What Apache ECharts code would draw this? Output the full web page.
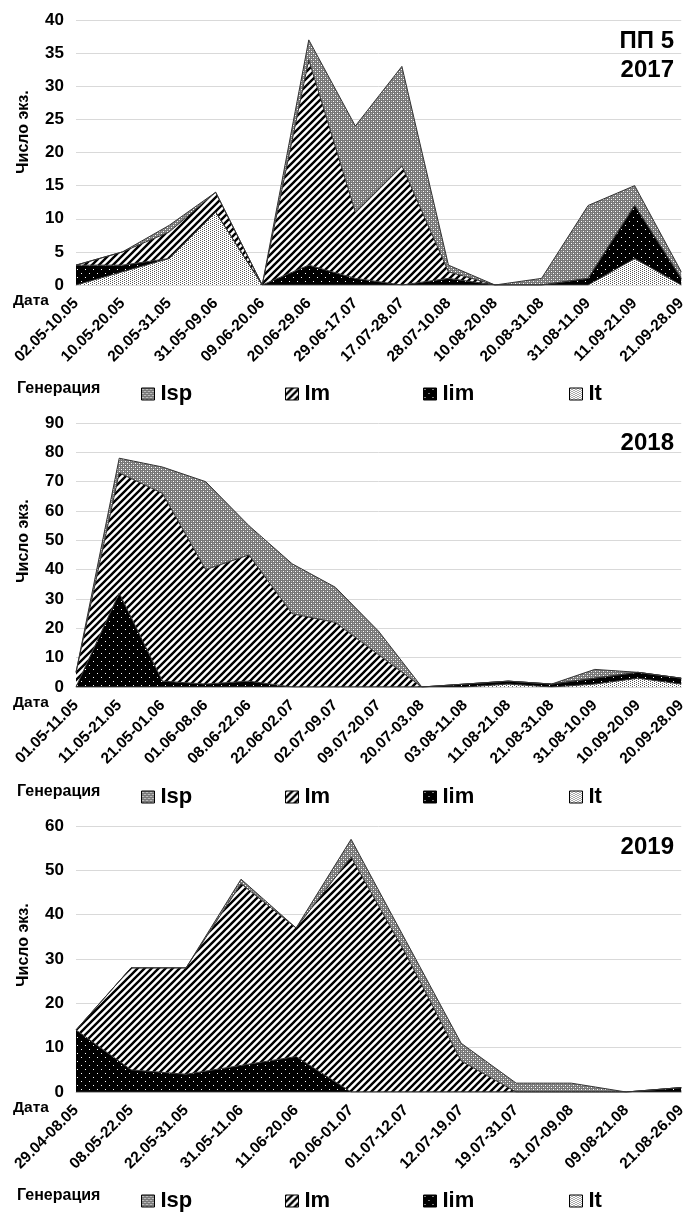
<!DOCTYPE html>
<html>
<head>
<meta charset="utf-8">
<script src="https://cdn.jsdelivr.net/npm/echarts@6/dist/echarts.min.js"></script>
<style>
html,body{margin:0;padding:0;background:#fff;}
#chart{width:689px;height:1213px;}
</style>
</head>
<body>
<div id="chart"></div>
<script>
// ---------- DATA ----------
const cats2017 = ['02.05-10.05','10.05-20.05','20.05-31.05','31.05-09.06','09.06-20.06','20.06-29.06','29.06-17.07','17.07-28.07','28.07-10.08','10.08-20.08','20.08-31.08','31.08-11.09','11.09-21.09','21.09-28.09'];
const isp2017 = [0,0,1,0,0,3,13,15,1,0,1,11,3,1];
const im2017  = [0,2,4,3,0,31,10,18,1,0,0,0,0,0];
const iim2017 = [3,1,0,0,0,3,1,0,1,0,0,1,8,1];
const it2017  = [0,2,4,11,0,0,0,0,0,0,0,0,4,0];

const cats2018 = ['01.05-11.05','11.05-21.05','21.05-01.06','01.06-08.06','08.06-22.06','22.06-02.07','02.07-09.07','09.07-20.07','20.07-03.08','03.08-11.08','11.08-21.08','21.08-31.08','31.08-10.09','10.09-20.09','20.09-28.09'];
const isp2018 = [0,5,9,30,10,17,12,8,0,0,0,0,3,0,0];
const im2018  = [5,41,64,39,43,25,22,11,0,0,0,0,0,0,0];
const iim2018 = [0,32,2,1,2,0,0,0,0,1,1,1,2,2,2];
const it2018  = [0,0,0,0,0,0,0,0,0,0,1,0,1,3,1];

const cats2019 = ['29.04-08.05','08.05-22.05','22.05-31.05','31.05-11.06','11.06-20.06','20.06-01.07','01.07-12.07','12.07-19.07','19.07-31.07','31.07-09.08','09.08-21.08','21.08-26.09'];
const isp2019 = [0,0,0,1,0,4,3,4,2,2,0,0];
const im2019  = [0,23,24,41,29,53,31,7,0,0,0,0];
const iim2019 = [14,5,4,6,8,0,0,0,0,0,0,1];
const it2019  = [0,0,0,0,0,0,0,0,0,0,0,0];

const seriesNames = ['Isp','Im','Iim','It'];
const yMax = [40, 90, 60];
const yInterval = [5, 10, 10];
const panelTitles = [['ПП 5', '2017'], ['2018'], ['2019']];

// ---------- PATTERNS ----------
function makeCanvas(size, draw){
  const c = document.createElement('canvas');
  c.width = size; c.height = size;
  const ctx = c.getContext('2d');
  draw(ctx, size);
  return c;
}
const patIsp = makeCanvas(4, (ctx)=>{
  ctx.fillStyle = '#777777'; ctx.fillRect(0,0,4,4);
  ctx.fillStyle = '#ffffff'; ctx.fillRect(1,1,1,1); ctx.fillRect(3,3,1,1);
  ctx.fillStyle = '#a8a8a8'; ctx.fillRect(1,3,1,1); ctx.fillRect(3,1,1,1);
});
const patIm = makeCanvas(7, (ctx, s)=>{
  ctx.fillStyle = '#ffffff'; ctx.fillRect(0,0,s,s);
  ctx.strokeStyle = '#000'; ctx.lineWidth = 2.4;
  ctx.beginPath();
  ctx.moveTo(-1, s+1); ctx.lineTo(s+1, -1);
  ctx.moveTo(-2, 2); ctx.lineTo(2, -2);
  ctx.moveTo(s-2, s+2); ctx.lineTo(s+2, s-2);
  ctx.stroke();
});
const patIim = makeCanvas(8, (ctx)=>{
  ctx.fillStyle = '#000'; ctx.fillRect(0,0,8,8);
  ctx.fillStyle = '#fff'; ctx.fillRect(1,1,1,1); ctx.fillRect(5,5,1,1);
});
const patIt = makeCanvas(4, (ctx)=>{
  ctx.fillStyle = '#fff'; ctx.fillRect(0,0,4,4);
  ctx.fillStyle = '#555'; ctx.fillRect(0,0,1,1); ctx.fillRect(2,1,1,1); ctx.fillRect(0,2,1,1); ctx.fillRect(2,3,1,1);
});
const patterns = {
  Isp: {image: patIsp, repeat: 'repeat'},
  Im:  {image: patIm,  repeat: 'repeat'},
  Iim: {image: patIim, repeat: 'repeat'},
  It:  {image: patIt,  repeat: 'repeat'}
};

// ---------- BUILD ----------
const panels = [
  {cats: cats2017, vals: {Isp: isp2017, Im: im2017, Iim: iim2017, It: it2017}},
  {cats: cats2018, vals: {Isp: isp2018, Im: im2018, Iim: iim2018, It: it2018}},
  {cats: cats2019, vals: {Isp: isp2019, Im: im2019, Iim: iim2019, It: it2019}}
];
const gridTops = [20, 423, 826];
const gridHeights = [265, 264, 266];
const legendCenters = [391, 794, 1198];
const legendLefts = [136, 280, 418, 564];
const yNameCenters = [132, 541, 945];
const titleCenters = [[41, 70], [443], [847]];

const FONT = 'Liberation Sans, Arial, sans-serif';
const grids = [], xAxes = [], yAxes = [], series = [], legends = [], graphics = [];

panels.forEach((p, i) => {
  grids.push({left: 76, right: 6, top: gridTops[i], height: gridHeights[i]});
  xAxes.push({
    type: 'category', gridIndex: i, data: p.cats, boundaryGap: false,
    axisLine: {show: true, lineStyle: {color: '#d9d9d9'}},
    axisTick: {show: false},
    axisLabel: {interval: 0, rotate: 45, margin: 16, color: '#000', fontFamily: FONT, fontWeight: 'bold', fontSize: 15.5}
  });
  yAxes.push({
    type: 'value', gridIndex: i, min: 0, max: yMax[i], interval: yInterval[i],
    axisLine: {show: false}, axisTick: {show: false},
    axisLabel: {color: '#000', fontFamily: FONT, fontWeight: 'bold', fontSize: 17, margin: 12},
    splitLine: {lineStyle: {color: '#d9d9d9', width: 1}}
  });
  ['It','Iim','Im','Isp'].forEach(name => {
    series.push({
      name: name, type: 'line', stack: 'panel' + i,
      xAxisIndex: i, yAxisIndex: i,
      data: p.vals[name], symbol: 'none',
      lineStyle: {color: '#333', width: 1},
      itemStyle: {color: patterns[name], borderColor: '#000'},
      areaStyle: {color: patterns[name], opacity: 1},
      emphasis: {disabled: true}
    });
  });
  seriesNames.forEach((name, k) => {
    legends.push({
      left: legendLefts[k], top: legendCenters[i] - 13, icon: 'rect',
      itemWidth: 13, itemHeight: 12, itemGap: 4,
      selectedMode: false,
      textStyle: {color: '#000', fontFamily: FONT, fontWeight: 'bold', fontSize: 22, padding: [0,0,0,1]},
      data: [{name: name, itemStyle: {color: patterns[name], borderColor: '#000', borderWidth: 1}}]
    });
  });
  panelTitles[i].forEach((t, j) => {
    graphics.push({
      type: 'text', x: 674, y: titleCenters[i][j],
      style: {text: t, fill: '#000', font: 'bold 24px ' + FONT, align: 'right', verticalAlign: 'middle'}
    });
  });
  graphics.push({
    type: 'text', x: 24, y: yNameCenters[i], rotation: Math.PI / 2,
    style: {text: 'Число экз.', fill: '#000', font: 'bold 16px ' + FONT, align: 'center', verticalAlign: 'middle'}
  });
  graphics.push({
    type: 'text', x: 13, y: gridTops[i] + gridHeights[i] + 16,
    style: {text: 'Дата', fill: '#000', font: 'bold 15.5px ' + FONT, align: 'left', verticalAlign: 'middle'}
  });
  graphics.push({
    type: 'text', x: 17, y: legendCenters[i] - 2,
    style: {text: 'Генерация', fill: '#000', font: 'bold 16px ' + FONT, align: 'left', verticalAlign: 'middle'}
  });
});

const chart = echarts.init(document.getElementById('chart'), null, {renderer: 'canvas'});
chart.setOption({
  animation: false,
  backgroundColor: '#fff',
  grid: grids,
  xAxis: xAxes,
  yAxis: yAxes,
  legend: legends,
  graphic: graphics,
  series: series
});
</script>
</body>
</html>
